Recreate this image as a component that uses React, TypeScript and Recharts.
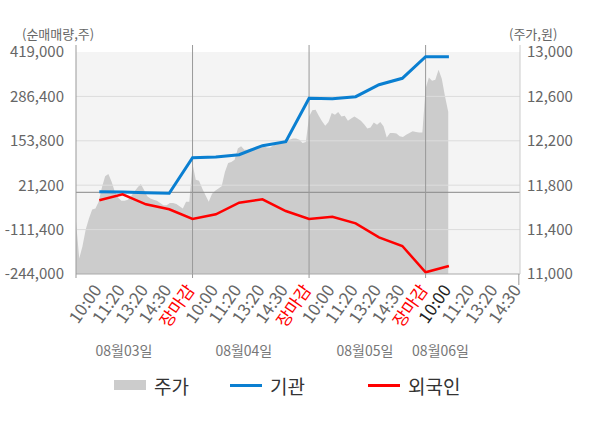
import {
  Area,
  ComposedChart,
  Line,
  ReferenceArea,
  ReferenceLine,
  XAxis,
  YAxis,
} from "recharts";

const FONT = "'Noto Sans CJK KR', 'Noto Sans', sans-serif";
const INST_COLOR = "#0a7fd1";
const FOREIGN_COLOR = "#ff0000";
const PRICE_COLOR = "#cccccc";

// x축 라벨 (슬롯 1..19)
const timeLabels = [
  "10:00", "11:20", "13:20", "14:30", "장마감",
  "10:00", "11:20", "13:20", "14:30", "장마감",
  "10:00", "11:20", "13:20", "14:30", "장마감",
  "10:00", "11:20", "13:20", "14:30",
];
const dateLabels = ["08월03일", "08월04일", "08월05일", "08월06일"];
const dateSlots = [2.06, 7.2, 12.4, 15.64];

// 주가 (하루 36구간)
const day1Price = [
  11470, 11140, 11250, 11400, 11500, 11580, 11590, 11650, 11780, 11880, 11900, 11830,
  11740, 11690, 11660, 11660, 11670, 11700, 11740, 11780, 11810, 11760, 11700, 11680,
  11670, 11660, 11640, 11620, 11620, 11640, 11640, 11630, 11610, 11590, 11650, 11650,
];
const day2Price = [
  11990, 11850, 11840, 11770, 11710, 11650, 11720, 11750, 11770, 11790, 11920, 12000,
  12010, 12030, 12130, 12150, 12120, 12120, 12130, 12130, 12150, 12150, 12150, 12140,
  12140, 12160, 12170, 12190, 12200, 12220, 12210, 12220, 12220, 12210, 12180, 12190,
];
const day3Price = [
  12420, 12475, 12480, 12425, 12375, 12335, 12370, 12450, 12435, 12460, 12420, 12425,
  12380, 12400, 12420, 12400, 12380, 12350, 12310, 12320, 12365, 12345, 12370, 12330,
  12230, 12270, 12270, 12265, 12240, 12235, 12255, 12270, 12285, 12280, 12275, 12275,
];
const day4Price = [12670, 12770, 12740, 12750, 12840, 12760, 12600, 12460];

// 순매매량 (슬롯 1..16)
const instNet = [
  2000, 1000, -1000, -3000, 103300, 105400, 112300, 139200, 151100, 280700, 279700,
  285600, 321300, 340400, 405000, 405000,
];
const foreignNet = [
  -23900, -6000, -35800, -50800, -79700, -65700, -31000, -21000, -55900, -79700,
  -72900, -92600, -134400, -160400, -239000, -220100,
];

const leftTicks = [-244000, -111400, 21200, 153800, 286400, 419000];
const rightTicks = [11000, 11400, 11800, 12200, 12600, 13000];

const SLOTS_PER_DAY = 5;
const STEPS_PER_DAY = 36;

type Row = { x: number; price?: number; inst?: number; foreign?: number };

function buildData(): Row[] {
  const map = new Map<number, Row>();
  const get = (x: number) => {
    const k = Math.round(x * 10000) / 10000;
    let r = map.get(k);
    if (!r) {
      r = { x: k };
      map.set(k, r);
    }
    return r;
  };
  [day1Price, day2Price, day3Price, day4Price].forEach((arr, d) => {
    arr.forEach((p, i) => {
      get(d * SLOTS_PER_DAY + (i * SLOTS_PER_DAY) / STEPS_PER_DAY).price = p;
    });
  });
  instNet.forEach((v, i) => (get(i + 1).inst = v));
  foreignNet.forEach((v, i) => (get(i + 1).foreign = v));
  return [...map.values()].sort((a, b) => a.x - b.x);
}

const data = buildData();
const fmt = (v: number) => v.toLocaleString("en-US");

function TimeTick(props: any) {
  const { x, y, payload } = props;
  const v: number = payload.value;
  const mark = v % SLOTS_PER_DAY === 0 || v === 19;
  const label = v >= 1 ? timeLabels[v - 1] : null;
  const color = label === "장마감" ? "#ff0000" : v === 16 ? "#222" : "#666";
  const ax = x + 3;
  const ay = y + 16;
  return (
    <g>
      {mark && <line x1={x} x2={x} y1={y} y2={y + (v === 19 ? 11 : 4)} stroke="#999" />}
      {label && (
        <text
          x={ax}
          y={ay}
          transform={`rotate(-55, ${ax}, ${ay})`}
          textAnchor="end"
          fill={color}
          fontSize={17}
          fontFamily={FONT}
        >
          {label}
        </text>
      )}
    </g>
  );
}

function DateTick(props: any) {
  const { x, y, index } = props;
  return (
    <text x={x} y={y + 18} textAnchor="middle" fill="#777" fontSize={14} fontFamily={FONT}>
      {dateLabels[index]}
    </text>
  );
}

const axisTick = { fill: "#666", fontSize: 15, fontFamily: FONT };

function LegendItem({ left, kind, color, text }: { left: number; kind: "box" | "line"; color: string; text: string }) {
  return (
    <div style={{ position: "absolute", left, top: 373, display: "flex", alignItems: "center", height: 24 }}>
      {kind === "box" ? (
        <span style={{ width: 32, height: 10, background: color, display: "inline-block" }} />
      ) : (
        <span style={{ width: 32, height: 3, background: color, display: "inline-block" }} />
      )}
      <span style={{ marginLeft: 8, fontSize: 19, color: "#333", fontFamily: FONT }}>{text}</span>
    </div>
  );
}

export default function App() {
  return (
    <div style={{ position: "absolute", left: 0, top: 0, width: 600, height: 428, background: "#fff" }}>
      <div style={{ position: "absolute", left: 22, top: 24, fontSize: 13, color: "#666", fontFamily: FONT }}>
        (순매매량,주)
      </div>
      <div style={{ position: "absolute", left: 509, top: 24, fontSize: 13, color: "#666", fontFamily: FONT }}>
        (주가,원)
      </div>
      <ComposedChart width={600} height={428} data={data} margin={{ top: 45, right: 0, bottom: 60, left: 0 }}>
        <XAxis
          dataKey="x"
          type="number"
          domain={[0, 19.05]}
          ticks={Array.from({ length: 20 }, (_, i) => i)}
          interval={0}
          tick={<TimeTick />}
          tickLine={false}
          tickSize={0}
          tickMargin={0}
          axisLine={{ stroke: "#aaa" }}
          height={64}
        />
        <XAxis
          xAxisId="date"
          dataKey="x"
          type="number"
          domain={[0, 19.05]}
          ticks={dateSlots}
          interval={0}
          tick={<DateTick />}
          tickLine={false}
          tickSize={0}
          tickMargin={0}
          axisLine={false}
          height={30}
        />
        <YAxis
          yAxisId="left"
          domain={[-244000, 439905]}
          ticks={leftTicks}
          interval={0}
          tickFormatter={fmt}
          tick={axisTick}
          tickLine={false}
          tickMargin={6}
          axisLine={{ stroke: "#999" }}
          width={76}
        />
        <YAxis
          yAxisId="right"
          orientation="right"
          domain={[11000, 13063]}
          ticks={rightTicks}
          interval={0}
          tickFormatter={fmt}
          tick={axisTick}
          tickLine={false}
          tickMargin={1}
          axisLine={{ stroke: "#ccc" }}
          width={80}
        />
        <ReferenceArea
          yAxisId="left"
          x1={0}
          x2={19.05}
          y1={-244000}
          y2={419000}
          fill="#f4f4f4"
          fillOpacity={1}
          stroke="none"
        />
        <Area
          yAxisId="right"
          dataKey="price"
          type="linear"
          stroke="none"
          fill={PRICE_COLOR}
          fillOpacity={1}
          connectNulls
          isAnimationActive={false}
          dot={false}
          activeDot={false}
        />
        {leftTicks.slice(1, 5).map((v) => (
          <ReferenceLine key={v} yAxisId="left" y={v} stroke="#dcdcdc" />
        ))}
        <ReferenceLine yAxisId="left" y={0} stroke="#888" />
        {[5, 10, 15].map((v) => (
          <ReferenceLine key={v} yAxisId="left" x={v} stroke="#999" />
        ))}
        <Line
          yAxisId="left"
          dataKey="inst"
          type="linear"
          stroke={INST_COLOR}
          strokeWidth={3}
          dot={false}
          activeDot={false}
          connectNulls
          isAnimationActive={false}
        />
        <Line
          yAxisId="left"
          dataKey="foreign"
          type="linear"
          stroke={FOREIGN_COLOR}
          strokeWidth={2.5}
          dot={false}
          activeDot={false}
          connectNulls
          isAnimationActive={false}
        />
      </ComposedChart>
      <LegendItem left={114} kind="box" color={PRICE_COLOR} text="주가" />
      <LegendItem left={230} kind="line" color={INST_COLOR} text="기관" />
      <LegendItem left={368} kind="line" color={FOREIGN_COLOR} text="외국인" />
    </div>
  );
}
